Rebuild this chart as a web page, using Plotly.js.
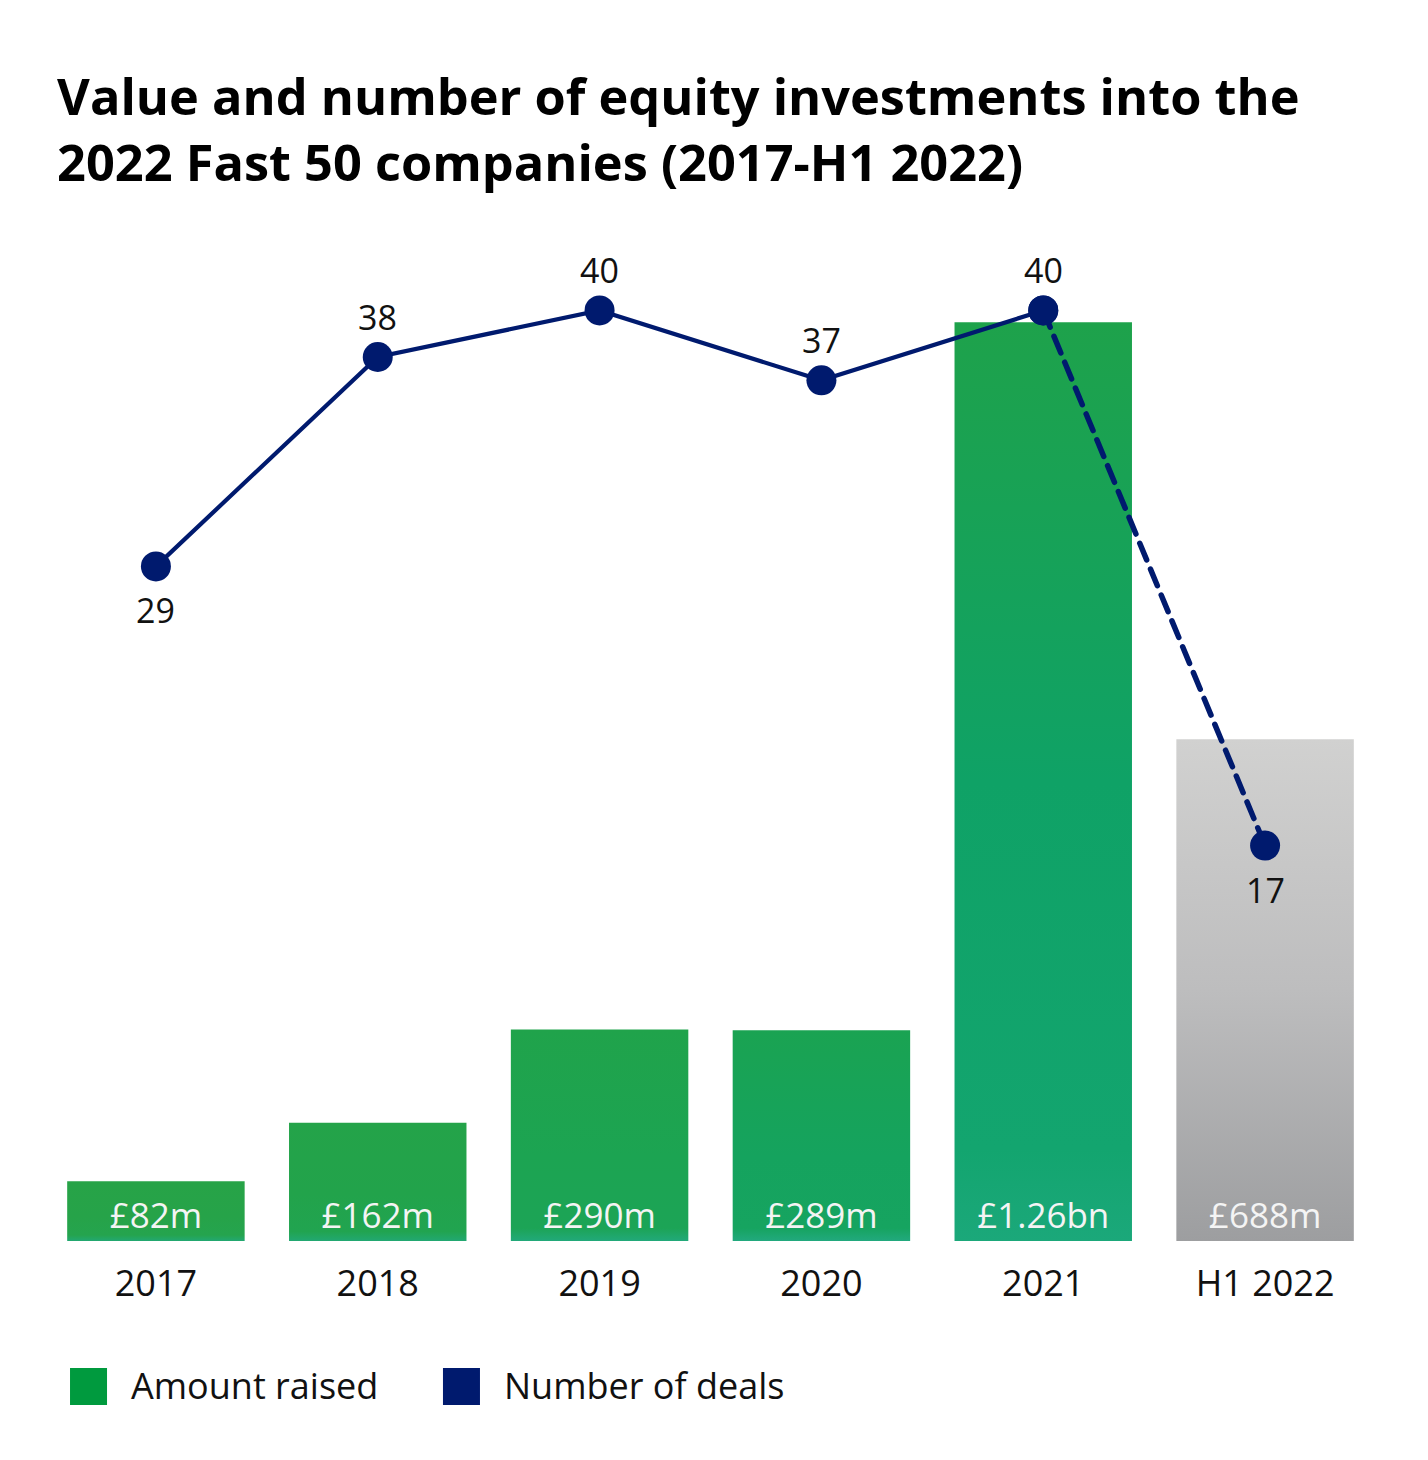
<!DOCTYPE html>
<html>
<head>
<meta charset="utf-8">
<script src="https://cdn.plot.ly/plotly-3.0.1.min.js"></script>
<style>
  html, body { margin: 0; padding: 0; background: #ffffff; }
  #chart { width: 1428px; height: 1460px; }
</style>
</head>
<body>
<div id="chart"></div>
<script>
// Chart data
const years = ["2017", "2018", "2019", "2020", "2021", "H1 2022"];
const amountRaised = [82, 162, 290, 289, 1260, 688]; // £m
const amountLabels = ["£82m", "£162m", "£290m", "£289m", "£1.26bn", "£688m"];
const deals = [29, 38, 40, 37, 40, 17];
const dealLabelBelow = [true, false, false, false, false, true];

const NAVY = "#001a6e";
const GREEN = "#009a3e";
const FONT = "Open Sans, sans-serif";

// gradient stops (offset, colour) for each bar, top to bottom
const barGradients = [
  [[0, "#27a347"], [0.6, "#26a349"], [0.9, "#25a44e"], [1, "#22a872"]],
  [[0, "#24a349"], [0.6, "#22a34b"], [0.92, "#21a450"], [1, "#22a872"]],
  [[0, "#20a34b"], [0.6, "#1ca452"], [0.94, "#1ca456"], [1, "#22a97a"]],
  [[0, "#1aa352"], [0.6, "#15a35e"], [0.94, "#16a460"], [1, "#22a97e"]],
  [[0, "#1ea24b"], [0.5, "#0fa266"], [0.9, "#13a56f"], [1, "#1ba87a"]],
  [[0, "#d1d1d0"], [0.5, "#bdbdbe"], [1, "#9d9ea0"]],
];

var chartDiv = document.getElementById("chart");

var barTrace = {
  x: years,
  y: amountRaised,
  type: "bar",
  name: "Amount raised",
  marker: { color: barGradients.map((g) => g[1][1]), line: { width: 0 } },
  text: amountLabels,
  textposition: "inside",
  insidetextanchor: "start",
  textangle: 0,
  textfont: { family: FONT, size: 35, color: "#f4f4f4" },
  cliponaxis: false,
  hoverinfo: "none",
};

// solid part of the line (2017-2021)
var dealsSolid = {
  x: years.slice(0, 5),
  y: deals.slice(0, 5),
  yaxis: "y2",
  type: "scatter",
  mode: "lines+markers",
  name: "Number of deals",
  line: { color: NAVY, width: 4.2 },
  marker: { color: NAVY, size: 30 },
  cliponaxis: false,
  hoverinfo: "none",
};

// dashed part (2021 -> H1 2022)
var dealsDashed = {
  x: years.slice(4),
  y: deals.slice(4),
  yaxis: "y2",
  type: "scatter",
  mode: "lines+markers",
  name: "Number of deals (H1)",
  line: { color: NAVY, width: 5.5, dash: "18px,10px" },
  marker: { color: NAVY, size: 30 },
  cliponaxis: false,
  hoverinfo: "none",
};

// value labels for the line, placed on the y2 scale
// (x given as category index: "2017" etc. would be read as numbers)
var dealAnnotations = deals.map(function (d, i) {
  return {
    x: i,
    y: d,
    xref: "x",
    yref: "y2",
    text: String(d),
    showarrow: false,
    yanchor: "middle",
    yshift: dealLabelBelow[i] ? -44 : 40,
    font: { family: FONT, size: 34, color: "#111111" },
  };
});

var legendAnnotations = [
  { text: "Amount raised", xref: "paper", yref: "paper", x: 0.0630, y: -0.1463, xanchor: "left", yanchor: "middle", showarrow: false, font: { family: FONT, size: 36, color: "#111111" } },
  { text: "Number of deals", xref: "paper", yref: "paper", x: 0.3434, y: -0.1463, xanchor: "left", yanchor: "middle", showarrow: false, font: { family: FONT, size: 36, color: "#111111" } },
];

var layout = {
  width: 1428,
  height: 1460,
  margin: { t: 250, b: 219, l: 45, r: 52, pad: 0 },
  paper_bgcolor: "#ffffff",
  plot_bgcolor: "#ffffff",
  showlegend: false,
  bargap: 0.2,
  font: { family: FONT, color: "#111111" },
  title: {
    text: "<b>Value and number of equity investments into the<br>2022 Fast 50 companies (2017-H1 2022)</b>",
    font: { family: FONT, size: 50.5, color: "#000000" },
    xref: "container",
    yref: "container",
    x: 0.04,
    xanchor: "left",
    y: 0.921,
    yanchor: "top",
  },
  xaxis: {
    type: "category",
    range: [-0.5, 5.5],
    showgrid: false,
    zeroline: false,
    showline: false,
    ticks: "outside",
    ticklen: 11,
    tickcolor: "rgba(0,0,0,0)",
    tickfont: { family: FONT, size: 36, color: "#111111" },
  },
  yaxis: {
    range: [0, 1359],
    visible: false,
    fixedrange: true,
  },
  yaxis2: {
    range: [0, 42.6],
    overlaying: "y",
    side: "right",
    visible: false,
    fixedrange: true,
  },
  shapes: [
    { type: "rect", xref: "paper", yref: "paper", x0: 0.0188, x1: 0.0466, y0: -0.1282, y1: -0.1655, fillcolor: GREEN, line: { width: 0 } },
    { type: "rect", xref: "paper", yref: "paper", x0: 0.2990, x1: 0.3268, y0: -0.1282, y1: -0.1655, fillcolor: NAVY, line: { width: 0 } },
  ],
  annotations: dealAnnotations.concat(legendAnnotations),
};

var config = { staticPlot: true, responsive: false };

Plotly.newPlot(chartDiv, [barTrace, dealsSolid, dealsDashed], layout, config).then(applyGradients);

// Plotly bars only take flat fills, so swap in SVG gradients afterwards
function applyGradients() {
  var svg = chartDiv.querySelector("svg.main-svg");
  var defs = svg.querySelector("defs");
  var ns = "http://www.w3.org/2000/svg";
  var paths = chartDiv.querySelectorAll(".barlayer .point path");
  paths.forEach(function (p, i) {
    var grad = document.createElementNS(ns, "linearGradient");
    grad.setAttribute("id", "bar-grad-" + i);
    grad.setAttribute("x1", "0");
    grad.setAttribute("y1", "0");
    grad.setAttribute("x2", "0");
    grad.setAttribute("y2", "1");
    barGradients[i].forEach(function (s) {
      var stop = document.createElementNS(ns, "stop");
      stop.setAttribute("offset", s[0]);
      stop.setAttribute("stop-color", s[1]);
      grad.appendChild(stop);
    });
    defs.appendChild(grad);
    p.style.fill = "url(#bar-grad-" + i + ")";
  });
  // the reference draws the dashes with rounded ends
  chartDiv.querySelectorAll(".scatterlayer .trace:last-child .js-line").forEach(function (l) {
    l.style.strokeLinecap = "round";
  });
}
</script>
</body>
</html>
